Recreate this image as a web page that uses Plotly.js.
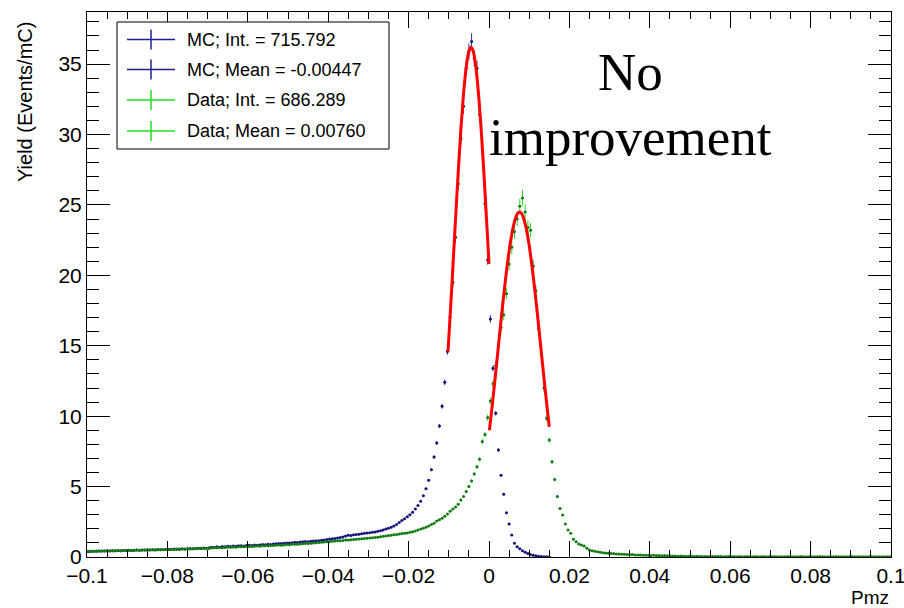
<!DOCTYPE html>
<html>
<head>
<meta charset="utf-8">
<script src="https://cdn.plot.ly/plotly-3.0.1.min.js"></script>
<style>html,body{margin:0;padding:0;background:#fff;}#chart{width:904px;height:608px;}</style>
</head>
<body>
<div id="chart"></div>
<script>
// Histogram binning (Pmz)
const binLow = -0.1;
const binHigh = 0.1;
const nBins = 300;

// MC yield per bin (Events/mC)
const mcY = [
0.38,0.40,0.41,0.40,0.42,0.43,0.42,0.44,0.43,0.45,
0.44,0.46,0.45,0.47,0.46,0.48,0.47,0.47,0.49,0.48,
0.50,0.49,0.51,0.50,0.52,0.51,0.53,0.52,0.54,0.53,
0.55,0.54,0.56,0.55,0.57,0.58,0.56,0.59,0.60,0.58,
0.61,0.62,0.60,0.64,0.63,0.66,0.70,0.68,0.72,0.70,
0.74,0.72,0.76,0.75,0.78,0.76,0.79,0.80,0.78,0.81,
0.83,0.82,0.85,0.84,0.86,0.88,0.87,0.90,0.89,0.92,
0.94,0.96,0.95,0.98,1.00,0.99,1.02,1.04,1.03,1.06,
1.08,1.10,1.09,1.12,1.14,1.16,1.15,1.19,1.21,1.25,
1.27,1.30,1.32,1.35,1.38,1.42,1.50,1.55,1.53,1.58,
1.60,1.62,1.65,1.68,1.70,1.72,1.75,1.78,1.82,1.86,
1.92,1.98,2.05,2.12,2.20,2.30,2.45,2.60,2.72,2.85,
3.00,3.18,3.40,3.65,3.95,4.35,4.85,5.45,6.20,7.10,
8.10,9.30,10.70,12.40,14.60,17.05,19.50,22.70,26.50,29.70,
32.00,34.70,35.90,36.60,35.40,34.70,31.40,28.90,25.10,21.10,
16.90,13.40,10.20,7.60,5.80,4.45,3.15,2.34,1.56,0.97,
0.73,0.58,0.45,0.33,0.24,0.17,0.12,0.08,0.05,0.03,
0.02,0.01,0.006,0,0,0,0,0,0,0,
0,0,0,0,0,0,0,0,0,0,0,0,0,0,0,0,0,0,0,0,
0,0,0,0,0,0,0,0,0,0,0,0,0,0,0,0,0,0,0,0,
0,0,0,0,0,0,0,0,0,0,0,0,0,0,0,0,0,0,0,0,
0,0,0,0,0,0,0,0,0,0,0,0,0,0,0,0,0,0,0,0,
0,0,0,0,0,0,0,0,0,0,0,0,0,0,0,0,0,0,0,0,
0,0,0,0,0,0,0,0,0,0,0,0,0,0,0,0,0,0,0,0
];

// Data yield per bin (Events/mC)
const dataY = [
0.40,0.41,0.40,0.42,0.43,0.42,0.44,0.43,0.45,0.44,
0.45,0.46,0.45,0.47,0.46,0.48,0.47,0.48,0.49,0.48,
0.50,0.49,0.50,0.51,0.52,0.50,0.52,0.53,0.52,0.54,
0.53,0.55,0.54,0.56,0.54,0.57,0.55,0.58,0.57,0.59,
0.58,0.60,0.62,0.60,0.63,0.61,0.64,0.66,0.65,0.67,
0.66,0.68,0.70,0.69,0.71,0.70,0.72,0.73,0.72,0.74,
0.75,0.74,0.76,0.78,0.77,0.79,0.80,0.79,0.82,0.81,
0.83,0.85,0.84,0.86,0.88,0.87,0.90,0.91,0.90,0.93,
0.94,0.96,0.95,0.98,1.00,1.01,1.03,1.05,1.06,1.09,
1.10,1.12,1.13,1.15,1.16,1.18,1.20,1.21,1.23,1.24,
1.26,1.28,1.29,1.31,1.33,1.35,1.37,1.39,1.41,1.44,
1.47,1.50,1.52,1.55,1.58,1.60,1.63,1.66,1.69,1.71,
1.75,1.80,1.85,1.92,1.98,2.05,2.12,2.20,2.30,2.40,
2.55,2.65,2.75,2.90,3.05,3.25,3.40,3.55,3.75,4.05,
4.30,4.65,5.00,5.40,5.90,6.40,6.95,8.20,8.70,9.90,
11.07,12.30,13.60,15.10,16.30,17.20,18.70,20.80,22.00,23.10,
24.00,24.90,25.50,24.50,23.40,23.20,20.65,18.90,16.20,14.40,
12.00,9.85,8.30,6.76,5.50,4.30,3.45,2.98,2.34,1.92,
1.68,1.26,1.09,0.92,0.85,0.78,0.62,0.50,0.45,0.40,
0.37,0.33,0.31,0.28,0.26,0.25,0.24,0.22,0.21,0.20,
0.19,0.18,0.17,0.17,0.15,0.14,0.15,0.13,0.12,0.12,
0.11,0.12,0.10,0.10,0.09,0.10,0.08,0.08,0.07,0.07,
0.06,0.07,0.05,0.06,0.05,0.05,0.04,0.05,0.04,0.04,
0.03,0.04,0.03,0.03,0.04,0.03,0.03,0.02,0.03,0.03,
0.02,0.03,0.02,0.03,0.02,0.02,0.03,0.02,0.02,0.03,
0.02,0.02,0.03,0.02,0.02,0.02,0.03,0.02,0.02,0.02,
0.02,0.03,0.02,0.02,0.02,0.02,0.03,0.02,0.02,0.02,
0.02,0.02,0.02,0.03,0.02,0.02,0.02,0.02,0.02,0.03,
0.02,0.02,0.02,0.02,0.02,0.03,0.02,0.02,0.02,0.02,
0.02,0.02,0.03,0.02,0.02,0.02,0.02,0.02,0.02,0.02
];

// Gaussian fit curves
const mcFitX = [-0.0102,-0.0095,-0.0090,-0.0085,-0.0080,-0.0075,-0.0070,-0.0065,-0.0060,-0.0055,-0.0050,-0.0045,-0.0040,-0.0035,-0.0030,-0.0025,-0.0020,-0.0015,-0.0010,-0.0005,0.0000];
const mcFitY = [14.59,17.97,20.51,23.09,25.64,28.08,30.32,32.30,33.93,35.15,35.92,36.20,35.98,35.27,34.10,32.51,30.58,28.36,25.94,23.40,20.82];
const dataFitX = [0.0001,0.0005,0.0010,0.0015,0.0020,0.0025,0.0030,0.0035,0.0040,0.0045,0.0050,0.0055,0.0060,0.0065,0.0070,0.0075,0.0080,0.0085,0.0090,0.0095,0.0100,0.0105,0.0110,0.0115,0.0120,0.0125,0.0130,0.0135,0.0140,0.0145,0.0150];
const dataFitY = [9.00,9.99,11.28,12.63,14.02,15.42,16.81,18.16,19.45,20.65,21.72,22.65,23.41,23.98,24.34,24.49,24.43,24.15,23.66,22.98,22.11,21.09,19.94,18.69,17.36,15.98,14.58,13.19,11.82,10.50,9.24];

// Legend entries and labels
const legendLabels = ["MC; Int. = 715.792","MC; Mean = -0.00447","Data; Int. = 686.289","Data; Mean = 0.00760"];
const legendColors = ["#1f1f8f","#1f1f8f","#22dd22","#22dd22"];
const noteLines = ["No","improvement"];
const xTitle = "Pmz";
const yTitle = "Yield (Events/mC)";
const xTickVals = [-0.1,-0.08,-0.06,-0.04,-0.02,0,0.02,0.04,0.06,0.08,0.1];
const xTickText = ['\u22120.1','\u22120.08','\u22120.06','\u22120.04','\u22120.02','0','0.02','0.04','0.06','0.08','0.1'];
const yTickVals = [0,5,10,15,20,25,30,35];

const binW = (binHigh - binLow) / nBins;
const centers = [];
for (let i = 0; i < nBins; i++) centers.push(binLow + (i + 0.5) * binW);
const nz = arr => arr.map(v => (v > 0 ? v : null));

const traces = [
  {
    x: centers, y: nz(mcY), type: 'scatter', mode: 'markers',
    marker: {color: '#14147a', size: 3},
    error_x: {type: 'constant', value: binW / 2, width: 0, thickness: 1, color: '#2a2a9a'},
    error_y: {type: 'percent', value: 1.6, width: 0, thickness: 1, color: '#2a2a9a'},
    hoverinfo: 'skip', showlegend: false
  },
  {
    x: centers, y: nz(dataY), type: 'scatter', mode: 'markers',
    marker: {color: '#127a12', size: 3},
    error_x: {type: 'constant', value: binW / 2, width: 0, thickness: 1, color: '#22dd22'},
    error_y: {type: 'percent', value: 2.2, width: 0, thickness: 1, color: '#22dd22'},
    hoverinfo: 'skip', showlegend: false
  },
  {
    x: mcFitX, y: mcFitY, type: 'scatter', mode: 'lines', line: {color: '#ff0000', width: 3, shape: 'spline'},
    hoverinfo: 'skip', showlegend: false
  },
  {
    x: dataFitX, y: dataFitY, type: 'scatter', mode: 'lines', line: {color: '#ff0000', width: 3, shape: 'spline'},
    hoverinfo: 'skip', showlegend: false
  }
];

// Layout geometry (pixels -> paper)
const L = 87, R = 13, T = 12, B = 51, W = 904, H = 608;
const pw = W - L - R, ph = H - T - B;
const px = p => (p - L) / pw;
const py = p => (H - B - p) / ph;

const shapes = [];
const annotations = [];
shapes.push({type: 'rect', xref: 'paper', yref: 'paper', x0: px(117), x1: px(389), y0: py(149), y1: py(22), line: {color: '#000', width: 1}, fillcolor: 'rgba(255,255,255,1)', layer: 'above'});
const rowY = [39.5, 69.5, 100, 131];
legendLabels.forEach((lab, k) => {
  shapes.push({type: 'line', xref: 'paper', yref: 'paper', x0: px(127), x1: px(175), y0: py(rowY[k]), y1: py(rowY[k]), line: {color: legendColors[k], width: 1.5}, layer: 'above'});
  shapes.push({type: 'line', xref: 'paper', yref: 'paper', x0: px(151), x1: px(151), y0: py(rowY[k] - 10), y1: py(rowY[k] + 10), line: {color: legendColors[k], width: 1.5}, layer: 'above'});
  annotations.push({xref: 'paper', yref: 'paper', x: px(185), y: py(rowY[k]), xanchor: 'left', yanchor: 'middle', text: lab, showarrow: false, font: {family: 'Liberation Sans, Arial, sans-serif', size: 18, color: '#000'}});
});
annotations.push({xref: 'paper', yref: 'paper', x: px(630), y: py(72), xanchor: 'center', yanchor: 'middle', text: noteLines[0], showarrow: false, font: {family: 'Liberation Serif, Times New Roman, serif', size: 53, color: '#000'}});
annotations.push({xref: 'paper', yref: 'paper', x: px(630), y: py(137), xanchor: 'center', yanchor: 'middle', text: noteLines[1], showarrow: false, font: {family: 'Liberation Serif, Times New Roman, serif', size: 53, color: '#000'}});
annotations.push({xref: 'paper', yref: 'paper', x: px(25), y: py(102), xanchor: 'center', yanchor: 'middle', textangle: -90, text: yTitle, showarrow: false, font: {family: 'Liberation Sans, Arial, sans-serif', size: 20, color: '#000'}});
annotations.push({xref: 'paper', yref: 'paper', x: px(891), y: py(597), xanchor: 'right', yanchor: 'middle', text: xTitle, showarrow: false, font: {family: 'Liberation Sans, Arial, sans-serif', size: 19, color: '#000'}});

const layout = {
  width: W, height: H,
  margin: {l: L, r: R, t: T, b: B, pad: 0},
  paper_bgcolor: '#fff', plot_bgcolor: '#fff',
  font: {family: 'Liberation Sans, Arial, sans-serif', size: 21, color: '#000'},
  xaxis: {
    range: [binLow, binHigh], tickvals: xTickVals, ticktext: xTickText,
    ticklabeloverflow: 'allow',
    ticks: 'inside', ticklen: 16, tickwidth: 1, tickcolor: '#000',
    minor: {ticks: 'inside', ticklen: 7, dtick: 0.005, tick0: 0, tickcolor: '#000', showgrid: false},
    showline: true, linecolor: '#000', linewidth: 1, mirror: 'ticks',
    showgrid: false, zeroline: false, tickfont: {size: 21}
  },
  yaxis: {
    range: [0, 38.7], tickvals: yTickVals,
    ticks: 'inside', ticklen: 23, tickwidth: 1, tickcolor: '#000',
    minor: {ticks: 'inside', ticklen: 12, dtick: 1, tick0: 0, tickcolor: '#000', showgrid: false},
    showline: true, linecolor: '#000', linewidth: 1, mirror: 'ticks',
    showgrid: false, zeroline: false, tickfont: {size: 21}
  },
  shapes: shapes,
  annotations: annotations,
  showlegend: false
};

Plotly.newPlot('chart', traces, layout, {displayModeBar: false, staticPlot: true});
</script>
</body>
</html>
